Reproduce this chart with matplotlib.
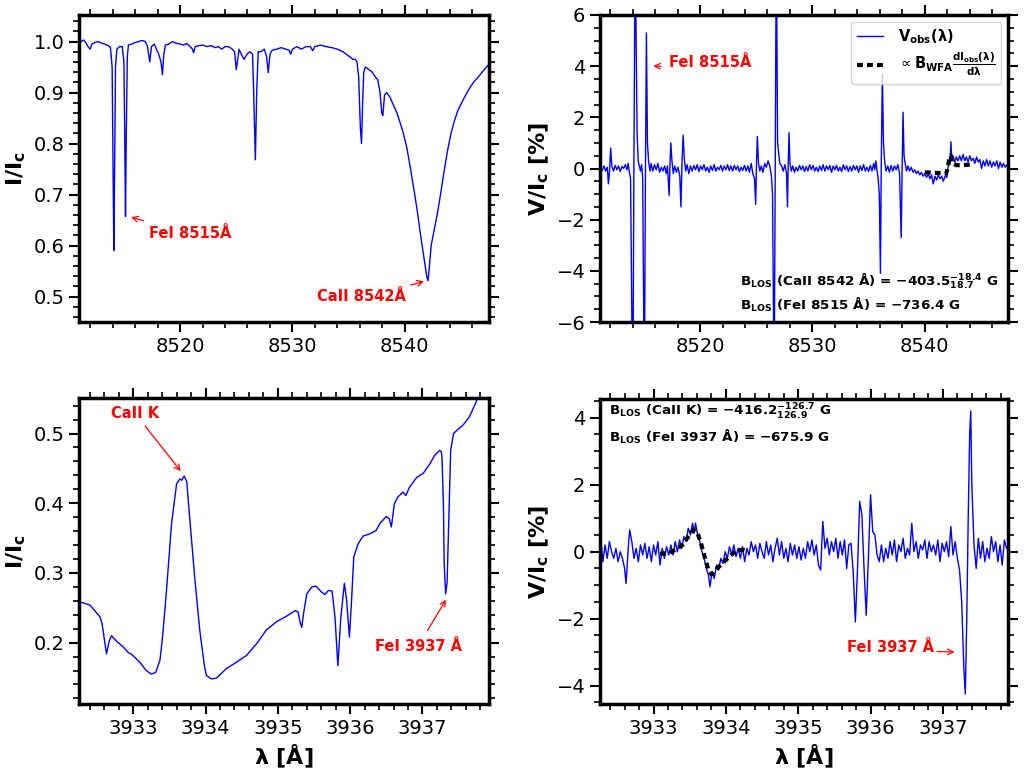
import numpy as np
import matplotlib
matplotlib.use("Agg")
import matplotlib.pyplot as plt
from matplotlib.ticker import MultipleLocator

# ---------------- data: CaII 8542 region, Stokes I ----------------
lam_i8542 = [8511.2, 8511.4, 8511.6, 8511.8, 8512.0, 8512.15, 8512.4, 8512.7, 8513.0, 8513.3,
             8513.6, 8513.8, 8513.95, 8514.05, 8514.1, 8514.15, 8514.25, 8514.37, 8514.6, 8514.85,
             8515.0, 8515.08, 8515.14, 8515.2, 8515.3, 8515.4, 8515.7, 8516.0, 8516.3, 8516.6,
             8516.9, 8517.1, 8517.3, 8517.45, 8517.7, 8517.9, 8518.1, 8518.3, 8518.43, 8518.55,
             8518.7, 8519.0, 8519.3, 8519.6, 8520.0, 8520.3, 8520.6, 8520.9, 8521.1, 8521.2,
             8521.35, 8521.7, 8522.0, 8522.4, 8522.8, 8523.1, 8523.4, 8523.7, 8524.0, 8524.3,
             8524.6, 8524.85, 8525.0, 8525.1, 8525.25, 8525.45, 8525.7, 8525.95, 8526.2, 8526.45,
             8526.55, 8526.7, 8526.82, 8526.95, 8527.2, 8527.5, 8527.7, 8527.85, 8528.0, 8528.2,
             8528.6, 8529.0, 8529.4, 8529.7, 8529.85, 8530.0, 8530.4, 8530.8, 8531.2, 8531.6,
             8531.8, 8532.0, 8532.5, 8533.0, 8533.5, 8534.0, 8534.5, 8534.8, 8535.1, 8535.4,
             8535.6, 8535.75, 8535.9, 8536.05, 8536.15, 8536.25, 8536.35, 8536.5, 8536.8, 8537.1,
             8537.4, 8537.6, 8537.8, 8537.95, 8538.05, 8538.2, 8538.4, 8538.7, 8539.0, 8539.3,
             8539.6, 8539.9, 8540.2, 8540.5, 8540.8, 8541.1, 8541.4, 8541.7, 8541.95, 8542.07,
             8542.2, 8542.35, 8542.6, 8542.9, 8543.2, 8543.5, 8543.8, 8544.1, 8544.4, 8544.7,
             8545.0, 8545.3, 8545.6, 8545.9, 8546.2, 8546.6, 8547.0, 8547.4]
i_8542 = [1.000, 1.003, 0.998, 0.990, 0.985, 0.995, 0.998, 1.000, 0.997, 0.995,
          0.992, 0.988, 0.950, 0.700, 0.590, 0.700, 0.950, 0.985, 0.990, 0.990,
          0.960, 0.800, 0.657, 0.800, 0.970, 0.993, 0.995, 0.998, 1.000, 1.002,
          1.000, 0.990, 0.960, 0.990, 0.995, 0.985, 0.975, 0.960, 0.935, 0.975,
          0.993, 0.995, 1.000, 0.997, 0.995, 0.993, 0.996, 0.990, 0.985, 0.978,
          0.990, 0.992, 0.993, 0.990, 0.992, 0.988, 0.990, 0.985, 0.990, 0.990,
          0.986, 0.980, 0.945, 0.960, 0.985, 0.975, 0.965, 0.975, 0.980, 0.975,
          0.900, 0.768, 0.900, 0.980, 0.980, 0.985, 0.970, 0.939, 0.975, 0.983,
          0.985, 0.988, 0.985, 0.983, 0.975, 0.985, 0.990, 0.985, 0.990, 0.990,
          0.982, 0.990, 0.993, 0.990, 0.988, 0.985, 0.980, 0.975, 0.970, 0.965,
          0.965, 0.960, 0.930, 0.830, 0.800, 0.880, 0.940, 0.950, 0.945, 0.940,
          0.930, 0.925, 0.900, 0.860, 0.855, 0.895, 0.900, 0.890, 0.875, 0.860,
          0.840, 0.818, 0.790, 0.752, 0.712, 0.670, 0.622, 0.577, 0.540, 0.531,
          0.560, 0.600, 0.628, 0.662, 0.702, 0.745, 0.785, 0.818, 0.843, 0.863,
          0.877, 0.890, 0.902, 0.913, 0.922, 0.932, 0.943, 0.953]

# ---------------- data: CaII 8542 region, Stokes V (%) ----------------
lam_v8542 = [8511.15, 8511.3, 8511.45, 8511.6, 8511.75, 8511.85, 8511.95, 8512.05, 8512.15, 8512.3,
             8512.45, 8512.6, 8512.75, 8512.9, 8513.05, 8513.2, 8513.35, 8513.5, 8513.6, 8513.7,
             8513.82, 8513.95, 8514.05, 8514.12, 8514.2, 8514.28, 8514.4, 8514.5, 8514.6, 8514.7,
             8514.8, 8514.9, 8515.0, 8515.07, 8515.15, 8515.23, 8515.32, 8515.42, 8515.55, 8515.65,
             8515.8, 8515.95, 8516.1, 8516.25, 8516.4, 8516.55, 8516.7, 8516.85, 8517.0, 8517.1,
             8517.25, 8517.33, 8517.4, 8517.5, 8517.62, 8517.75, 8517.9, 8518.05, 8518.2, 8518.3,
             8518.4, 8518.5, 8518.6, 8518.72, 8518.85, 8519.0, 8519.15, 8519.3, 8519.45, 8519.6,
             8519.75, 8519.9, 8520.05, 8520.2, 8520.35, 8520.5, 8520.65, 8520.8, 8520.95, 8521.1,
             8521.25, 8521.4, 8521.55, 8521.7, 8521.85, 8522.0, 8522.15, 8522.3, 8522.45, 8522.6,
             8522.75, 8522.9, 8523.05, 8523.2, 8523.35, 8523.5, 8523.65, 8523.8, 8523.95, 8524.1,
             8524.25, 8524.4, 8524.55, 8524.7, 8524.85, 8524.95, 8525.03, 8525.1, 8525.2, 8525.32,
             8525.45, 8525.6, 8525.75, 8525.9, 8526.05, 8526.2, 8526.35, 8526.45, 8526.55, 8526.62,
             8526.7, 8526.76, 8526.82, 8526.9, 8527.0, 8527.1, 8527.25, 8527.4, 8527.55, 8527.7,
             8527.78, 8527.85, 8527.92, 8528.0, 8528.12, 8528.25, 8528.4, 8528.55, 8528.7, 8528.85,
             8529.0, 8529.15, 8529.3, 8529.45, 8529.6, 8529.75, 8529.9, 8530.05, 8530.2, 8530.35,
             8530.5, 8530.65, 8530.8, 8530.95, 8531.1, 8531.25, 8531.4, 8531.55, 8531.7, 8531.85,
             8532.0, 8532.15, 8532.3, 8532.45, 8532.6, 8532.75, 8532.9, 8533.05, 8533.2, 8533.35,
             8533.5, 8533.65, 8533.8, 8533.95, 8534.1, 8534.25, 8534.4, 8534.55, 8534.7, 8534.85,
             8535.0, 8535.15, 8535.3, 8535.45, 8535.55, 8535.65, 8535.75, 8535.85, 8535.95, 8536.05,
             8536.12, 8536.22, 8536.32, 8536.42, 8536.55, 8536.7, 8536.85, 8537.0, 8537.15, 8537.3,
             8537.45, 8537.6, 8537.75, 8537.9, 8537.98, 8538.06, 8538.15, 8538.25, 8538.38, 8538.5,
             8538.65, 8538.8, 8538.95, 8539.1, 8539.25, 8539.4, 8539.55, 8539.7, 8539.85, 8540.0,
             8540.15, 8540.3, 8540.45, 8540.6, 8540.75, 8540.9, 8541.05, 8541.2, 8541.35, 8541.5,
             8541.65, 8541.8, 8541.95, 8542.05, 8542.15, 8542.25, 8542.32, 8542.4, 8542.5, 8542.65,
             8542.8, 8542.95, 8543.1, 8543.25, 8543.4, 8543.55, 8543.7, 8543.85, 8544.0, 8544.15,
             8544.3, 8544.45, 8544.6, 8544.75, 8544.9, 8545.05, 8545.2, 8545.35, 8545.5, 8545.65,
             8545.8, 8545.95, 8546.1, 8546.25, 8546.4, 8546.55, 8546.7, 8546.85, 8547.0, 8547.15,
             8547.3, 8547.45]
v_8542 = [0.05, -0.08, 0.10, -0.10, 0.05, -0.60, -0.10, 0.80, 0.10, -0.10,
          0.12, -0.05, 0.10, -0.12, 0.08, 0.00, 0.15, -0.05, 0.20, -0.10,
          -0.40, -6.5, -6.5, 0.50, 6.5, 6.5, 1.40, 0.30, 0.10, -0.10,
          0.15, -0.40, -6.5, -6.5, 0.30, 5.30, 1.00, 0.30, -0.10, 0.20,
          -0.10, 0.15, -0.05, 0.20, -0.15, 0.05, -0.10, 0.10, -0.20, 0.10,
          -1.05, 0.20, 1.00, 0.30, -0.20, 0.10, -0.15, 0.05, -0.30, -1.50,
          0.30, 1.30, 0.40, -0.10, 0.15, -0.20, 0.10, -0.10, 0.12, -0.05,
          0.15, -0.12, 0.10, -0.05, 0.15, -0.10, 0.05, -0.15, 0.10, -0.08,
          0.15, -0.10, 0.05, -0.05, 0.12, -0.10, 0.10, -0.05, 0.15, -0.08,
          0.10, -0.10, 0.12, -0.05, 0.10, -0.12, 0.05, -0.08, 0.12, -0.10,
          0.10, -0.15, 0.20, -0.20, -0.40, -1.40, 0.30, 1.25, 0.20, -0.10,
          0.10, -0.15, 0.20, 0.05, 0.30, 0.10, -0.30, -1.00, -6.5, -6.5,
          0.50, 6.5, 6.5, 1.00, 0.60, 0.20, 0.10, -0.10, 0.15, -0.20,
          -1.50, 0.30, 1.40, 0.20, -0.10, 0.10, -0.15, 0.05, -0.10, 0.12,
          -0.05, 0.10, -0.12, 0.08, -0.10, 0.15, -0.05, 0.12, -0.10, 0.05,
          -0.12, 0.10, -0.08, 0.15, -0.10, 0.10, -0.05, 0.12, -0.15, 0.10,
          -0.05, 0.12, -0.10, 0.05, -0.12, 0.15, -0.05, 0.10, -0.12, 0.08,
          -0.10, 0.12, -0.05, 0.10, -0.15, 0.10, -0.08, 0.15, -0.10, 0.05,
          -0.12, 0.12, -0.10, 0.20, -0.05, 0.30, -0.10, -0.40, -1.00, -4.10,
          0.00, 3.70, 1.00, 0.30, -0.10, 0.10, -0.15, 0.12, -0.10, 0.10,
          -0.05, 0.15, -0.20, -2.70, 0.00, 2.20, 0.50, 0.20, -0.10, 0.10,
          -0.10, 0.05, -0.15, -0.05, -0.20, -0.10, -0.25, -0.15, -0.30, -0.20,
          -0.35, -0.20, -0.40, -0.25, -0.60, -0.30, -0.45, -0.25, -0.40, -0.30,
          -0.50, -0.30, -0.35, 0.00, 0.30, 0.20, 1.05, 0.30, 0.50, 0.25,
          0.45, 0.30, 0.50, 0.30, 0.55, 0.30, 0.45, 0.25, 0.50, 0.30,
          0.40, 0.20, 0.45, 0.25, 0.35, 0.00, 0.30, 0.10, 0.35, 0.10,
          0.30, 0.05, 0.25, 0.10, 0.30, 0.00, 0.25, 0.05, 0.20, 0.05,
          0.15, 0.10]

lam_wfa8542 = [8540.0, 8540.5, 8541.0, 8541.5, 8541.9, 8542.05, 8542.2, 8542.3, 8542.4, 8542.8,
               8543.2, 8543.6, 8544.1]
v_wfa8542 = [-0.15, -0.16, -0.17, -0.18, -0.20, 0.05, 0.45, 0.50, 0.22, 0.13,
             0.13, 0.14, 0.15]

# ---------------- data: CaII K region, Stokes I ----------------
lam_ik = [3932.28, 3932.40, 3932.54, 3932.57, 3932.60, 3932.63, 3932.67, 3932.70, 3932.77, 3932.86,
          3932.93, 3932.98, 3933.09, 3933.18, 3933.25, 3933.31, 3933.37, 3933.41, 3933.46, 3933.53,
          3933.60, 3933.645, 3933.67, 3933.705, 3933.74, 3933.78, 3933.85, 3933.92, 3933.98, 3934.01,
          3934.08, 3934.15, 3934.29, 3934.43, 3934.57, 3934.71, 3934.84, 3934.98, 3935.12, 3935.24,
          3935.28, 3935.31, 3935.33, 3935.36, 3935.40, 3935.47, 3935.53, 3935.60, 3935.65, 3935.70,
          3935.75, 3935.79, 3935.83, 3935.87, 3935.92, 3935.95, 3935.99, 3936.02, 3936.05, 3936.11,
          3936.18, 3936.27, 3936.36, 3936.41, 3936.50, 3936.54, 3936.57, 3936.61, 3936.66, 3936.73,
          3936.77, 3936.82, 3936.92, 3937.01, 3937.10, 3937.17, 3937.24, 3937.26, 3937.27, 3937.29,
          3937.30, 3937.32, 3937.34, 3937.36, 3937.39, 3937.43, 3937.50, 3937.56, 3937.65, 3937.74,
          3937.78]
i_k = [0.258, 0.254, 0.237, 0.227, 0.205, 0.184, 0.203, 0.210, 0.202, 0.194,
       0.186, 0.183, 0.172, 0.160, 0.155, 0.157, 0.175, 0.213, 0.275, 0.371,
       0.428, 0.435, 0.433, 0.439, 0.431, 0.380, 0.294, 0.218, 0.170, 0.153,
       0.148, 0.149, 0.163, 0.172, 0.182, 0.199, 0.218, 0.230, 0.238, 0.246,
       0.244, 0.228, 0.222, 0.245, 0.270, 0.280, 0.281, 0.273, 0.269, 0.275,
       0.274, 0.237, 0.167, 0.235, 0.285, 0.262, 0.208, 0.262, 0.323, 0.342,
       0.353, 0.356, 0.361, 0.371, 0.381, 0.378, 0.366, 0.399, 0.409, 0.416,
       0.411, 0.423, 0.437, 0.443, 0.456, 0.469, 0.476, 0.474, 0.466, 0.395,
       0.313, 0.270, 0.285, 0.361, 0.476, 0.500, 0.507, 0.512, 0.524, 0.545,
       0.555]

# ---------------- data: CaII K region, Stokes V (%) ----------------
lam_vk = [3932.27, 3932.30, 3932.33, 3932.36, 3932.39, 3932.42, 3932.45, 3932.48, 3932.51, 3932.54,
          3932.57, 3932.60, 3932.62, 3932.65, 3932.67, 3932.70, 3932.73, 3932.76, 3932.79, 3932.82,
          3932.85, 3932.88, 3932.91, 3932.94, 3932.97, 3933.00, 3933.03, 3933.06, 3933.09, 3933.12,
          3933.15, 3933.18, 3933.21, 3933.24, 3933.27, 3933.30, 3933.33, 3933.36, 3933.39, 3933.42,
          3933.45, 3933.48, 3933.51, 3933.54, 3933.56, 3933.58, 3933.61, 3933.64, 3933.67, 3933.70,
          3933.73, 3933.76, 3933.78, 3933.81, 3933.84, 3933.87, 3933.90, 3933.93, 3933.96, 3933.99,
          3934.02, 3934.05, 3934.08, 3934.11, 3934.14, 3934.17, 3934.20, 3934.23, 3934.26, 3934.29,
          3934.32, 3934.35, 3934.38, 3934.41, 3934.44, 3934.47, 3934.50, 3934.53, 3934.56, 3934.59,
          3934.62, 3934.65, 3934.68, 3934.71, 3934.74, 3934.77, 3934.80, 3934.83, 3934.86, 3934.89,
          3934.92, 3934.95, 3934.98, 3935.01, 3935.04, 3935.07, 3935.10, 3935.13, 3935.16, 3935.19,
          3935.22, 3935.25, 3935.28, 3935.31, 3935.34, 3935.37, 3935.40, 3935.43, 3935.46, 3935.49,
          3935.52, 3935.55, 3935.58, 3935.61, 3935.64, 3935.67, 3935.70, 3935.73, 3935.76, 3935.79,
          3935.82, 3935.85, 3935.88, 3935.91, 3935.94, 3935.97, 3936.00, 3936.03, 3936.06, 3936.09,
          3936.12, 3936.15, 3936.18, 3936.21, 3936.24, 3936.27, 3936.30, 3936.33, 3936.36, 3936.39,
          3936.42, 3936.45, 3936.48, 3936.51, 3936.54, 3936.57, 3936.60, 3936.63, 3936.66, 3936.69,
          3936.72, 3936.75, 3936.78, 3936.81, 3936.84, 3936.87, 3936.90, 3936.93, 3936.96, 3936.99,
          3937.02, 3937.05, 3937.08, 3937.11, 3937.14, 3937.17, 3937.20, 3937.23, 3937.26, 3937.29,
          3937.31, 3937.33, 3937.35, 3937.37, 3937.385, 3937.40, 3937.43, 3937.46, 3937.49, 3937.52,
          3937.55, 3937.58, 3937.61, 3937.64, 3937.67, 3937.70, 3937.73, 3937.76, 3937.79, 3937.82,
          3937.85, 3937.88]
v_k = [0.40, -0.30, 0.20, -0.20, 0.30, 0.00, -0.20, 0.10, -0.30, 0.00,
       -0.20, -0.50, -0.95, 0.10, 0.65, 0.30, -0.20, 0.10, -0.30, 0.20,
       -0.10, 0.25, -0.20, 0.15, -0.30, 0.20, -0.10, 0.30, -0.40, 0.10,
       -0.20, 0.15, -0.10, 0.20, -0.10, 0.30, 0.00, 0.35, 0.10, 0.45,
       0.30, 0.70, 0.50, 0.85, 0.55, 0.85, 0.50, 0.30, 0.00, -0.20,
       -0.50, -0.70, -1.05, -0.60, -0.80, -0.40, -0.55, -0.20, -0.35, 0.00,
       -0.20, 0.15, -0.10, 0.20, -0.15, 0.10, -0.20, 0.15, -0.30, 0.10,
       -0.10, 0.30, 0.00, 0.20, -0.20, 0.25, 0.00, -0.20, 0.30, -0.10,
       0.20, -0.30, 0.10, 0.40, -0.10, 0.30, -0.20, 0.10, -0.30, 0.25,
       -0.10, 0.20, -0.20, 0.15, -0.25, 0.10, -0.20, 0.30, 0.00, 0.35,
       -0.10, 0.20, -0.40, -0.55, 0.90, 0.10, 0.40, -0.10, 0.30, 0.00,
       0.40, -0.20, 0.30, -0.10, 0.35, -0.50, 0.20, 0.25, -0.60, -2.10,
       -0.50, 1.50, 1.10, -0.50, -1.90, -0.20, 1.70, 0.60, 0.50, -0.10,
       -0.30, 0.20, -0.30, 0.10, -0.20, 0.30, -0.10, 0.35, -0.30, 0.20,
       0.00, 0.40, -0.20, 0.10, -0.10, 0.85, 0.00, 0.30, -0.20, 0.20,
       0.05, 0.35, -0.20, 0.30, 0.00, 0.20, -0.10, 0.35, -0.30, 0.25,
       0.00, 0.30, -0.15, 0.75, -0.10, 0.30, -0.20, -0.55, -1.50, -3.50,
       -4.25, -2.00, 1.00, 3.50, 4.20, 2.00, 0.20, -0.50, 0.40, -0.20,
       0.30, -0.30, 0.10, -0.20, 0.45, 0.00, 0.30, -0.30, 0.20, -0.40,
       0.35, 0.10]

lam_wfak = [3933.09, 3933.20, 3933.30, 3933.40, 3933.48, 3933.55, 3933.60, 3933.65, 3933.70, 3933.76,
            3933.80, 3933.88, 3933.95, 3934.05, 3934.15, 3934.25, 3934.30]
v_wfak = [-0.06, -0.05, 0.05, 0.20, 0.45, 0.65, 0.60, 0.30, -0.10, -0.55,
          -0.68, -0.50, -0.35, -0.15, 0.05, 0.05, 0.02]

# ---------------- figure ----------------
fig = plt.figure(figsize=(10.25, 7.78), dpi=100)
W, H = 1025.0, 778.0
ax1 = fig.add_axes([79 / W, 1 - 322 / H, 410 / W, 307 / H])
ax2 = fig.add_axes([600 / W, 1 - 322 / H, 408 / W, 307 / H])
ax3 = fig.add_axes([79 / W, 1 - 704 / H, 410 / W, 306 / H])
ax4 = fig.add_axes([600 / W, 1 - 704 / H, 408 / W, 305 / H])

blue = '#0000ff'
red = '#ff0000'
tick_fs = 14
lab_fs = 16
ann_fs = 10.5
wfa_ls = (0, (1.4, 1.0))

def style(ax, xmaj, xmin, ymaj, ymin):
    for s in ax.spines.values():
        s.set_linewidth(2.5)
    ax.xaxis.set_major_locator(MultipleLocator(xmaj))
    ax.xaxis.set_minor_locator(MultipleLocator(xmin))
    ax.yaxis.set_major_locator(MultipleLocator(ymaj))
    ax.yaxis.set_minor_locator(MultipleLocator(ymin))
    ax.tick_params(which='both', direction='out', top=True, right=True,
                   labelsize=tick_fs)
    ax.tick_params(which='major', length=7, width=1.5)
    ax.tick_params(which='minor', length=4, width=1.2)

# Panel 1: I, CaII 8542
ax1.plot(lam_i8542, i_8542, color=blue, lw=1.0)
ax1.set_xlim(8511.0, 8547.5)
ax1.set_ylim(0.45, 1.052)
style(ax1, 10, 2, 0.1, 0.02)
ax1.set_ylabel(r'$\mathbf{I/I_c}$', fontsize=lab_fs, fontweight='bold')
ax1.text(8517.2, 0.624, 'FeI 8515Å', color=red, fontsize=ann_fs, fontweight='bold',
         ha='left', va='center')
ax1.annotate('', xy=(8515.4, 0.657), xytext=(8517.0, 0.647),
             arrowprops=dict(arrowstyle='->', color=red, lw=0.9))
ax1.text(8532.2, 0.500, 'CaII 8542Å', color=red, fontsize=ann_fs, fontweight='bold',
         ha='left', va='center')
ax1.annotate('', xy=(8541.95, 0.531), xytext=(8540.3, 0.521),
             arrowprops=dict(arrowstyle='->', color=red, lw=0.9))

# Panel 2: V, CaII 8542
ax2.plot(lam_v8542, v_8542, color=blue, lw=1.0, label=r'$\mathbf{V_{obs}(\lambda)}$')
ax2.plot(lam_wfa8542, v_wfa8542, color='black', lw=3, ls=wfa_ls,
         label=r'$\propto \mathbf{B_{WFA}\frac{dI_{obs}(\lambda)}{d\lambda}}$')
ax2.set_xlim(8511.1, 8547.4)
ax2.set_ylim(-6, 6)
style(ax2, 10, 2, 2, 0.5)
ax2.set_ylabel(r'$\mathbf{V/I_c}$ [%]', fontsize=lab_fs, fontweight='bold')
ax2.legend(loc='upper right', fontsize=10.5, handlelength=1.8, borderpad=0.4,
           labelspacing=0.35, handletextpad=1.0, borderaxespad=0.45)
ax2.text(8517.25, 4.14, 'FeI 8515Å', color=red, fontsize=ann_fs, fontweight='bold',
         ha='left', va='center')
ax2.annotate('', xy=(8515.6, 4.0), xytext=(8516.8, 4.0),
             arrowprops=dict(arrowstyle='->', color=red, lw=0.9))
ax2.text(8523.6, -4.39, r'$\mathbf{B_{LOS}}$ (CaII 8542 Å) = $\mathbf{-403.5^{-18.4}_{18.7}}$ G',
         fontsize=9.7, fontweight='bold', ha='left', va='center')
ax2.text(8523.6, -5.33, r'$\mathbf{B_{LOS}}$ (FeI 8515 Å) = $\mathbf{-736.4}$ G',
         fontsize=9.7, fontweight='bold', ha='left', va='center')

# Panel 3: I, CaII K
ax3.plot(lam_ik, i_k, color=blue, lw=1.0)
ax3.set_xlim(3932.25, 3937.92)
ax3.set_ylim(0.112, 0.551)
style(ax3, 1, 0.2, 0.1, 0.02)
ax3.set_ylabel(r'$\mathbf{I/I_c}$', fontsize=lab_fs, fontweight='bold')
ax3.set_xlabel(r'$\mathbf{\lambda}$ [Å]', fontsize=lab_fs, fontweight='bold')
ax3.text(3933.03, 0.529, 'CaII K', color=red, fontsize=ann_fs, fontweight='bold',
         ha='center', va='center')
ax3.annotate('', xy=(3933.68, 0.443), xytext=(3933.14, 0.514),
             arrowprops=dict(arrowstyle='->', color=red, lw=0.9))
ax3.text(3936.95, 0.195, 'FeI 3937 Å', color=red, fontsize=ann_fs, fontweight='bold',
         ha='center', va='center')
ax3.annotate('', xy=(3937.345, 0.265), xytext=(3937.05, 0.214),
             arrowprops=dict(arrowstyle='->', color=red, lw=0.9))

# Panel 4: V, CaII K
ax4.plot(lam_vk, v_k, color=blue, lw=1.0)
ax4.plot(lam_wfak, v_wfak, color='black', lw=3, ls=wfa_ls)
ax4.set_xlim(3932.26, 3937.9)
ax4.set_ylim(-4.55, 4.56)
style(ax4, 1, 0.2, 2, 0.5)
ax4.set_ylabel(r'$\mathbf{V/I_c}$ [%]', fontsize=lab_fs, fontweight='bold')
ax4.set_xlabel(r'$\mathbf{\lambda}$ [Å]', fontsize=lab_fs, fontweight='bold')
ax4.text(3932.39, 4.18, r'$\mathbf{B_{LOS}}$ (CaII K) = $\mathbf{-416.2^{-126.7}_{126.9}}$ G',
         fontsize=9.7, fontweight='bold', ha='left', va='center')
ax4.text(3932.39, 3.43, r'$\mathbf{B_{LOS}}$ (FeI 3937 Å) = $\mathbf{-675.9}$ G',
         fontsize=9.7, fontweight='bold', ha='left', va='center')
ax4.text(3935.67, -2.86, 'FeI 3937 Å', color=red, fontsize=ann_fs, fontweight='bold',
         ha='left', va='center')
ax4.annotate('', xy=(3937.2, -3.0), xytext=(3936.88, -2.98),
             arrowprops=dict(arrowstyle='->', color=red, lw=0.9))

fig.savefig('out.png', dpi=100)
